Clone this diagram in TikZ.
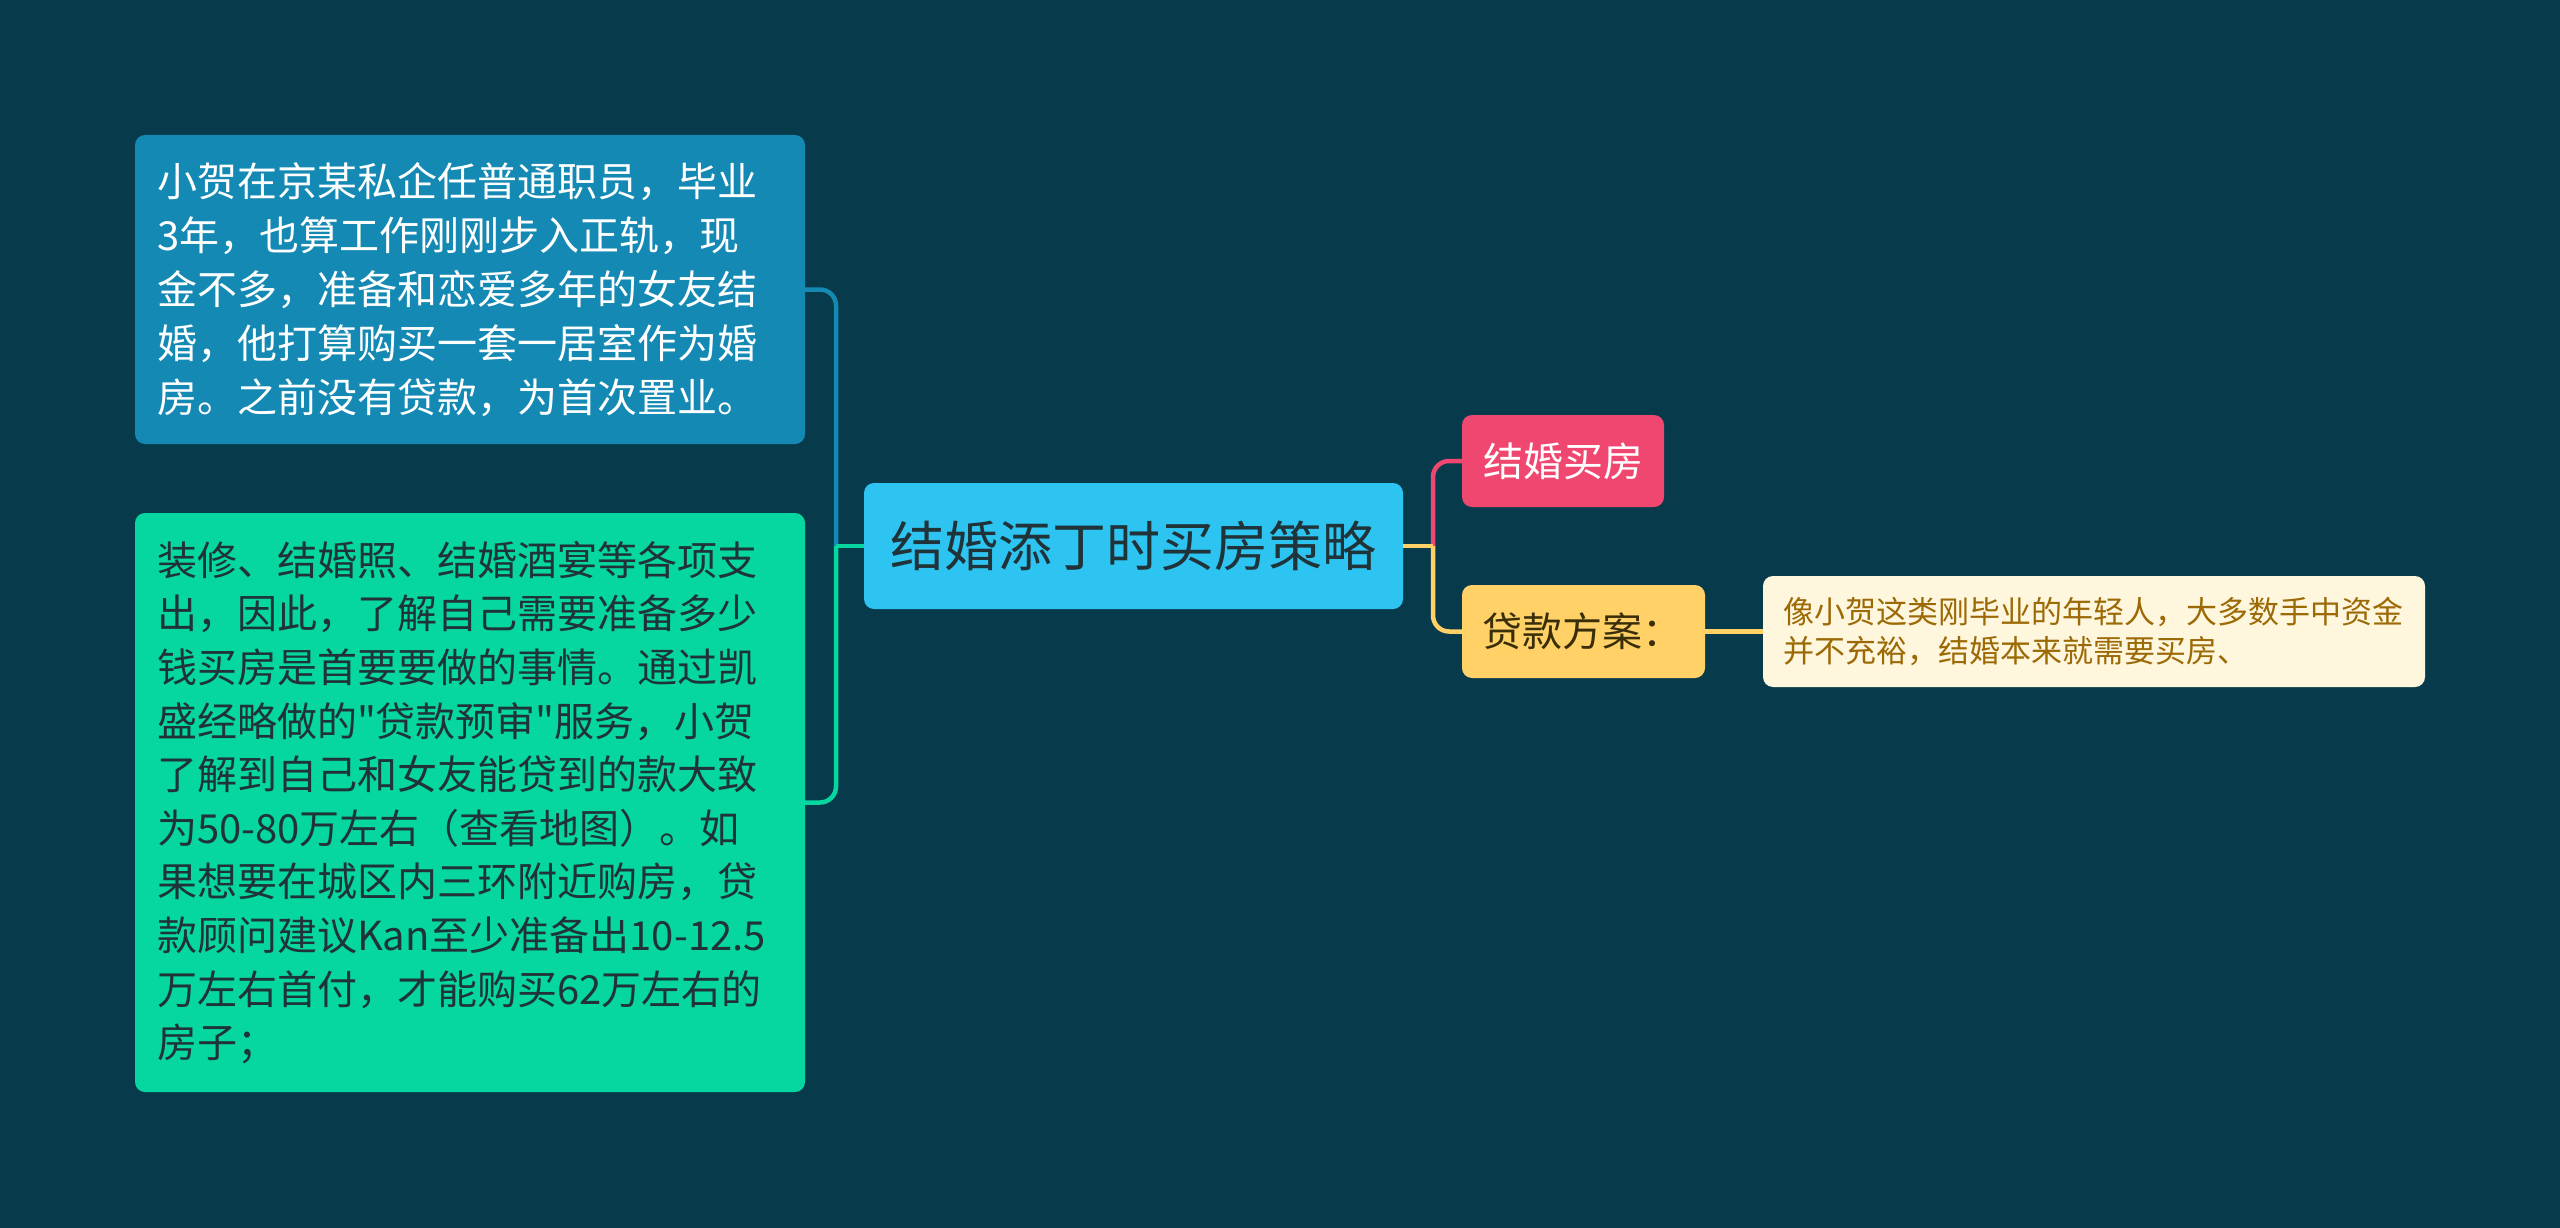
\documentclass[tikz,border=0pt]{standalone}
\usepackage{fontspec}
\newfontfamily\cjk{Noto Sans CJK SC}
\definecolor{bgc}{HTML}{073B4C}
\definecolor{bluec}{HTML}{1389B3}
\definecolor{centerc}{HTML}{2EC4F2}
\definecolor{greenc}{HTML}{06D6A0}
\definecolor{pinkc}{HTML}{EF476F}
\definecolor{yellowc}{HTML}{FFD166}
\definecolor{creamc}{HTML}{FFF6DE}
\definecolor{creamtext}{HTML}{9C6A05}
\definecolor{darktext}{HTML}{1F3338}
\definecolor{yellowtext}{HTML}{3A2E0A}
\tikzset{
  box/.style={rectangle, rounded corners=10pt, inner ysep=0pt, font=\cjk},
  conn/.style={line width=4.5pt},
}
\begin{document}
\begin{tikzpicture}[x=1pt,y=-1pt]
\fill[bgc] (0,0) rectangle (2560,1228);
\useasboundingbox (0,0) rectangle (2560,1228);

\node[box, fill=bluec, text=white, inner xsep=22pt, text width=626pt, minimum height=309pt, align=left,
  font=\cjk\fontsize{40}{54}\selectfont] (blue) at (470,289.5)
  {小贺在京某私企任普通职员，毕业\\3年，也算工作刚刚步入正轨，现\\金不多，准备和恋爱多年的女友结\\婚，他打算购买一套一居室作为婚\\房。之前没有贷款，为首次置业。};

\node[box, fill=greenc, text=darktext, inner xsep=22pt, text width=626pt, minimum height=579pt, align=left,
  font=\cjk\fontsize{40}{53.6}\selectfont] (green) at (470,802.5)
  {装修、结婚照、结婚酒宴等各项支\\出，因此，了解自己需要准备多少\\钱买房是首要要做的事情。通过凯\\盛经略做的"贷款预审"服务，小贺\\了解到自己和女友能贷到的款大致\\为50-80万左右（查看地图）。如\\果想要在城区内三环附近购房，贷\\款顾问建议Kan至少准备出10-12.5\\万左右首付，才能购买62万左右的\\房子；};

\node[box, fill=centerc, text=darktext, minimum width=539pt, minimum height=126pt,
  font=\cjk\fontsize{54}{60}\selectfont] (center) at (1133.5,546) {结婚添丁时买房策略};

\node[box, fill=pinkc, text=white, minimum width=202pt, minimum height=92pt,
  font=\cjk\fontsize{40}{48}\selectfont] (pink) at (1563,461) {结婚买房};

\node[box, fill=yellowc, text=yellowtext, inner xsep=20pt, text width=203pt, align=left, minimum height=93pt,
  font=\cjk\fontsize{40}{48}\selectfont] (yellow) at (1583.5,631.5) {贷款方案：};

\node[box, fill=creamc, text=creamtext, inner xsep=20pt, text width=622pt, align=left, minimum height=111pt,
  font=\cjk\fontsize{31}{39}\selectfont] (cream) at (2094,631.5)
  {像小贺这类刚毕业的年轻人，大多数手中资金\\并不充裕，结婚本来就需要买房、};

\coordinate (lj) at (836,546);
\coordinate (rj) at (1433,546);

\draw[conn, bluec, rounded corners=16pt] (blue.east) -| (lj);
\draw[conn, greenc] (center.west) -- (lj);
\draw[conn, greenc, rounded corners=16pt] (lj) |- (green.east);

\draw[conn, pinkc, rounded corners=16pt] (rj) |- (pink.west);
\draw[conn, yellowc, rounded corners=16pt] (rj) |- (yellow.west);
\draw[conn, yellowc] (center.east) -- (rj);
\draw[conn, yellowc] (yellow.east) -- (cream.west);
\end{tikzpicture}
\end{document}
